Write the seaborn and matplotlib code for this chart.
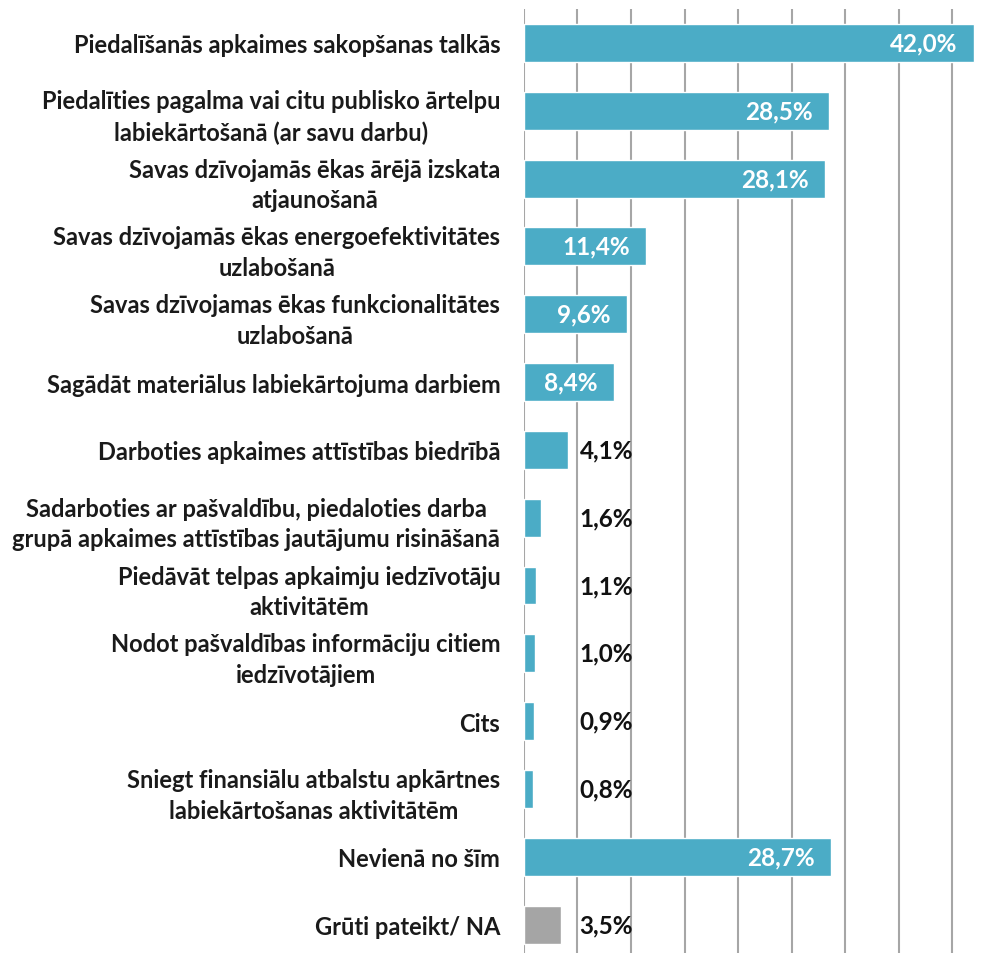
import matplotlib
matplotlib.use("Agg")
import matplotlib.pyplot as plt
import seaborn as sns

categories = [
    "Piedalīšanās apkaimes sakopšanas talkās",
    "Piedalīties pagalma vai citu publisko ārtelpu\nlabiekārtošanā (ar savu darbu)",
    "Savas dzīvojamās ēkas ārējā izskata\natjaunošanā",
    "Savas dzīvojamās ēkas energoefektivitātes\nuzlabošanā",
    "Savas dzīvojamas ēkas funkcionalitātes\nuzlabošanā",
    "Sagādāt materiālus labiekārtojuma darbiem",
    "Darboties apkaimes attīstības biedrībā",
    "Sadarboties ar pašvaldību, piedaloties darba\ngrupā apkaimes attīstības jautājumu risināšanā",
    "Piedāvāt telpas apkaimju iedzīvotāju\naktivitātēm",
    "Nodot pašvaldības informāciju citiem\niedzīvotājiem",
    "Cits",
    "Sniegt finansiālu atbalstu apkārtnes\nlabiekārtošanas aktivitātēm",
    "Nevienā no šīm",
    "Grūti pateikt/ NA",
]
values = [42.0, 28.5, 28.1, 11.4, 9.6, 8.4, 4.1, 1.6, 1.1, 1.0, 0.9, 0.8, 28.7, 3.5]
value_labels = ["42,0%", "28,5%", "28,1%", "11,4%", "9,6%", "8,4%", "4,1%",
                "1,6%", "1,1%", "1,0%", "0,9%", "0,8%", "28,7%", "3,5%"]

TEAL = "#4BACC6"
GREY = "#A5A5A5"
colors = [TEAL] * (len(categories) - 1) + [GREY]

sns.set_style("white")
plt.rcParams["font.family"] = ["Lato", "DejaVu Sans"]

fig = plt.figure(figsize=(9.95, 9.54), dpi=100)
ax = fig.add_axes([0.5266, -0.0058, 0.4734, 0.9953])

sns.barplot(x=values, y=categories, hue=categories, palette=colors,
            legend=False, orient="h", width=0.56, saturation=1, ax=ax, zorder=3)

ax.set_xlim(0, 44.0)
ax.set_ylim(len(categories) - 0.5, -0.5)
ax.set_xticks(range(0, 45, 5))
ax.grid(axis="x", color="#A6A6A6", linewidth=1.5, zorder=0)
ax.grid(axis="y", visible=False)
for s in ax.spines.values():
    s.set_visible(False)
ax.set_xticklabels([])
ax.tick_params(axis="x", length=0)
ax.tick_params(axis="y", length=0, pad=17, labelsize=17, labelcolor="#1A1A1A")
for lbl in ax.get_yticklabels():
    lbl.set_fontweight("bold")
    lbl.set_multialignment("center")
    lbl.set_linespacing(1.4)
ax.set_xlabel("")
ax.set_ylabel("")

for i, (v, txt) in enumerate(zip(values, value_labels)):
    if v >= 8:
        ax.annotate(txt, xy=(v, i), xytext=(-16, 0), textcoords="offset pixels",
                    ha="right", va="center", color="white", fontsize=17.5,
                    fontweight="bold", zorder=4)
    else:
        ax.text(5.2, i, txt, ha="left", va="center", color="#111111",
                fontsize=17.5, fontweight="bold", zorder=4)

fig.savefig("out.png", dpi=100)
